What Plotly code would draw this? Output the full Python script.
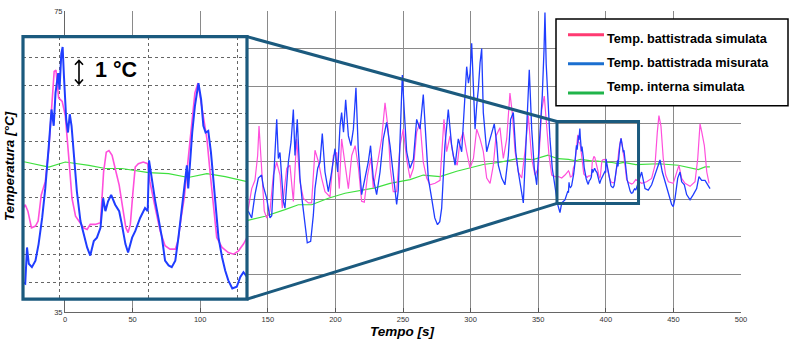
import plotly.graph_objects as go

# ---------------- data ----------------
sim_t = [134.4, 138.1, 140.5, 142.5, 143.5, 145.5, 147.4, 149.2, 151.6, 154.1, 156.6, 159.0, 160.7, 164.0,
         166.4, 168.9, 171.3, 173.8, 176.3, 180.0, 182.4, 184.9, 187.4, 189.8, 192.3, 196.0, 198.5, 201.0,
         202.9, 204.6, 207.1, 209.6, 212.1, 214.6, 217.1, 219.4, 221.4, 223.8, 226.3, 228.0, 230.5, 234.2,
         236.7, 239.0, 240.6, 242.8, 245.3, 247.8, 250.2, 252.7, 255.2, 257.7, 260.1, 262.6, 265.0, 267.5,
         270.0, 273.7, 277.4, 279.3, 280.3, 282.3, 284.8, 287.2, 290.1, 292.1, 294.5, 297.1, 299.6, 302.1,
         304.5, 307.0, 309.4, 311.9, 314.4, 316.8, 318.8, 321.7, 324.2, 326.7, 329.1, 330.8, 332.9, 335.3,
         337.8, 340.2, 342.7, 345.2, 347.6, 350.1, 352.6, 354.5, 356.2, 358.0, 360.0, 362.4, 364.9, 367.4,
         369.8, 371.8,
         372.4, 373.0, 373.8, 374.7, 375.3, 376.0, 376.9, 377.7, 378.4, 378.9, 379.3, 379.9, 380.7, 381.4,
         382.2, 382.9, 383.7, 384.8, 385.5, 386.3, 387.0, 388.1, 389.3, 390.0, 390.6, 391.2, 391.9, 392.6,
         393.5, 394.3, 395.0, 395.5, 396.0, 396.6, 397.1, 397.8, 398.9, 399.9, 400.4, 401.6, 402.7, 403.8,
         404.9, 406.1, 406.7, 407.4, 408.1, 409.0, 409.8, 410.5, 411.2, 411.7, 412.4, 413.2, 413.9, 414.7,
         415.4, 416.6, 418.0, 419.2, 420.3, 421.4, 422.2,
         426.5, 430.2, 433.9, 436.4, 438.1, 439.3, 440.8, 442.5, 444.3, 446.3, 449.9, 452.4, 454.1, 456.1,
         458.6, 462.3, 466.0, 468.0, 469.7, 470.9, 472.9, 474.7, 476.4]
sim_T = [47.5, 51.4, 52.5, 55.8, 59.7, 53.6, 48.4, 47.5, 48.4, 53.2, 54.9, 53.2, 48.8, 54.1,
         54.5, 49.7, 58.0, 52.3, 50.1, 49.5, 49.5, 56.5, 55.0, 52.8, 51.0, 50.3, 55.8, 56.2,
         51.4, 58.0, 54.9, 51.4, 55.8, 57.1, 54.1, 49.7, 49.6, 53.2, 55.5, 51.5, 54.1, 58.0,
         62.8, 59.3, 54.1, 51.0, 51.0, 57.1, 59.3, 55.3, 52.8, 54.1, 58.9, 60.2, 54.9, 52.8,
         51.9, 52.1, 52.5, 57.1, 60.6, 56.3, 58.4, 55.7, 54.5, 57.6, 58.9, 56.3, 54.1, 55.4,
         59.3, 58.0, 56.3, 52.8, 52.1, 54.5, 58.4, 59.5, 55.4, 58.0, 64.1, 61.5, 56.3, 53.6,
         52.8, 56.3, 61.1, 55.4, 53.2, 54.1, 61.9, 63.7, 60.2, 55.8, 53.2, 53.0, 53.0, 52.8,
         53.2, 53.6,
         53.76, 53.53, 52.94, 53.0, 53.18, 54.11, 54.58, 55.75, 57.27, 58.50, 58.55, 57.56, 57.44, 56.92,
         55.40, 53.99, 53.35, 53.12, 52.94, 52.88, 53.06, 53.06, 53.12, 54.93, 55.63, 55.69, 55.52, 55.05,
         54.46, 53.64, 52.94, 52.77, 53.06, 54.23, 55.10, 55.22, 55.28, 55.22, 54.58, 53.64, 52.82, 52.30,
         52.18, 52.18, 52.47, 53.29, 53.99, 55.40, 56.68, 57.74, 58.09, 57.62, 56.92, 56.10, 54.93, 53.76,
         52.59, 52.24, 52.06, 52.00, 52.12, 52.36, 52.59,
         52.1, 52.3, 52.75, 54.5, 58.9, 61.1, 59.7, 55.4, 53.2, 52.3, 52.1, 53.6, 54.5, 52.75,
         52.1, 51.7, 52.3, 55.4, 60.0, 59.0, 57.1, 53.6, 52.1]

meas_t = [135.6, 138.1, 140.5, 143.0, 145.4, 146.7, 149.2, 151.6, 152.9, 154.8, 156.6, 157.8, 159.0, 161.5,
          162.7, 165.2, 167.2, 168.9, 170.1, 171.8, 173.8, 175.5, 177.5, 179.2, 181.7, 183.7, 184.9, 186.9,
          188.6, 190.3, 192.3, 194.8, 197.2, 199.7, 201.7, 203.4, 204.6, 206.0, 207.6, 209.6, 211.5, 213.3,
          215.2, 216.9, 219.4, 221.9, 224.3, 226.0, 228.0, 230.5, 233.0, 235.4, 237.9, 240.4, 242.8, 245.3,
          246.5, 247.8, 249.5, 251.0, 252.7, 255.2, 257.7, 260.1, 262.6, 265.0, 267.0, 268.7, 271.2, 273.5,
          275.5, 277.2, 278.6, 281.0, 283.5, 286.0, 288.5, 290.9, 293.4, 295.9, 297.1, 298.4, 299.6, 300.8,
          302.1, 303.3, 304.5, 305.7, 307.0, 308.2, 309.4, 311.9, 314.4, 317.5, 319.3, 320.5, 323.0, 325.4,
          327.9, 329.6, 331.6, 333.4, 335.3, 337.8, 339.0, 340.7, 341.9, 343.4, 345.2, 347.1, 348.9, 350.1,
          351.8, 353.0, 354.3, 355.0, 355.9, 357.0, 358.7, 360.4, 362.4, 364.4, 366.1, 367.4, 369.8, 371.8,
          372.4, 372.8, 373.2, 373.9, 374.7, 375.4, 376.2, 376.9, 377.7, 378.3, 378.8, 379.2, 379.8, 380.1,
          380.5, 380.8, 381.1, 381.6, 382.0, 382.4, 382.8, 383.3, 384.0, 384.8, 385.5, 386.3, 387.0, 387.8,
          388.5, 389.3, 389.9, 390.4, 391.0, 391.7, 392.6, 393.5, 394.1, 394.9, 395.5, 396.4, 397.1, 397.5,
          398.2, 399.3, 399.9, 400.2, 400.8, 401.6, 402.3, 403.1, 403.8, 404.6, 405.3, 406.1, 406.8, 407.6,
          408.1, 408.7, 409.0, 409.4, 409.9, 410.5, 411.3, 411.9, 412.4, 412.9, 413.5, 414.1, 414.7, 415.2,
          415.8, 416.6, 417.3, 418.0, 418.9, 419.9, 420.7, 421.4, 422.2,
          424.0, 426.5, 429.0, 431.4, 433.9, 436.4, 438.4, 440.1, 441.8, 443.8, 446.3, 448.7, 449.9, 451.2,
          453.2, 454.9, 456.1, 458.1, 459.8, 462.3, 464.7, 467.2, 468.9, 470.9, 473.4, 475.4, 477.1]
meas_T = [48.4, 47.5, 50.6, 52.8, 53.2, 51.7, 50.1, 47.5, 47.8, 54.9, 60.6, 55.4, 56.2, 49.7,
          48.8, 54.9, 57.6, 61.9, 55.8, 60.6, 52.8, 49.7, 47.1, 44.2, 44.4, 47.9, 51.4, 54.1,
          54.9, 58.7, 53.6, 51.0, 53.6, 56.7, 53.6, 59.7, 61.5, 58.9, 63.2, 58.4, 57.1, 59.3,
          64.8, 56.7, 50.6, 52.7, 54.9, 57.1, 52.8, 50.6, 53.6, 58.0, 60.2, 57.1, 53.6, 49.3,
          51.2, 58.0, 66.5, 61.5, 56.3, 54.1, 55.3, 60.6, 59.3, 63.9, 57.1, 52.8, 50.1, 47.5,
          46.6, 47.0, 48.8, 57.1, 61.9, 57.1, 54.5, 58.0, 56.3, 63.7, 67.6, 65.4, 66.7, 70.7,
          63.7, 59.3, 62.4, 64.6, 68.1, 70.0, 61.5, 56.3, 58.0, 60.0, 57.5, 54.5, 52.8, 51.9,
          55.8, 60.6, 61.5, 56.3, 53.6, 50.6, 49.5, 56.3, 61.5, 67.2, 59.3, 54.1, 51.9, 55.4,
          61.5, 63.7, 69.8, 74.8, 68.0, 63.2, 58.0, 54.1, 51.9, 49.3, 48.2, 49.5, 49.9, 51.0,
          50.95, 52.24, 51.66, 51.54, 51.77, 52.36, 53.29, 54.34, 55.87, 57.15, 56.57, 57.74, 58.44, 57.85,
          59.14, 59.37, 58.32, 56.80, 56.33, 56.98, 56.57, 55.63, 54.23, 53.18, 52.71, 52.24, 51.95, 52.47,
          52.59, 52.94, 53.99, 53.53, 53.88, 54.11, 53.76, 53.53, 53.06, 52.36, 52.06, 52.59, 52.82, 53.00,
          53.29, 53.64, 53.53, 55.34, 54.70, 53.88, 53.29, 52.59, 51.77, 51.60, 51.54, 51.77, 52.59, 53.64,
          54.23, 55.16, 54.34, 55.28, 56.33, 57.27, 58.09, 57.50, 56.57, 56.33, 56.39, 55.63, 54.58, 53.53,
          52.59, 51.89, 51.42, 51.07, 50.78, 50.84, 51.19, 51.36, 51.19,
          52.3, 53.6, 51.4, 51.2, 51.9, 53.2, 54.5, 55.2, 53.6, 52.3, 50.6, 49.3, 49.0, 50.1,
          52.8, 53.6, 52.3, 51.9, 50.6, 49.9, 50.6, 51.4, 53.0, 52.5, 52.5, 51.9, 51.4]

int_t = [133.0, 148.0, 162.7, 172.6, 182.4, 194.8, 207.1, 219.4, 229.3, 240.4, 255.2, 265.0, 277.4, 289.7,
         301.8, 309.4, 321.7, 334.3, 346.2, 357.2, 364.6, 372.4, 377.7, 381.4, 386.7, 390.4, 394.1, 397.1,
         400.1, 404.6, 409.0, 413.2, 417.3, 422.2, 438.8, 453.6, 468.4, 473.4, 477.0]
int_T = [47.07, 47.72, 48.60, 49.25, 49.25, 50.12, 50.78, 51.22, 51.50, 52.10, 52.60, 53.20, 53.00, 53.70,
         54.30, 54.60, 54.90, 55.37, 55.24, 55.85, 55.37, 55.28, 55.10, 55.28, 55.16, 55.05, 55.05, 54.97,
         54.90, 54.87, 54.73, 54.87, 54.76, 54.58, 54.70, 54.50, 53.93, 54.28, 54.28]

x_ticks = [0, 50, 100, 150, 200, 250, 300, 350, 400, 450, 500]
y_ticks = [35, 40, 45, 50, 55, 60, 65, 70, 75]
legend_labels = ["Temp. battistrada simulata", "Temp. battistrada misurata", "Temp. interna simulata"]
x_title = "Tempo [s]"
y_title = "Temperatura [°C]"
scale_label = "1 °C"

# zoom window shown in the inset and the box marking it on the main chart
zoom_x = [371.9, 422.2]
zoom_y = [50.40, 59.74]
box_x = [363.9, 424.2]
box_y = [49.43, 60.31]

# ---------------- layout helpers ----------------
W, H = 800, 346
ML, MR, MT, MB = 20, 59, 7, 34
PW, PH = W - ML - MR, H - MT - MB


def px(x):
    return (x - ML) / PW


def py(y):
    return (H - MB - y) / PH


X0 = px(65)


def main_to_paper(t, T):
    return X0 + t / 500 * (1 - X0), (T - 35) / 40


FONT = "Liberation Sans, Arial, sans-serif"
C_SIM, C_MEAS, C_INT = "#ff4fdc", "#1f3dff", "#3ee03e"
C_BOX = "#1b5a7e"

fig = go.Figure()
for ax in ("x", "x2"):
    yax = "y" if ax == "x" else "y2"
    inset = ax == "x2"
    fig.add_trace(go.Scatter(x=int_t, y=int_T, mode="lines", xaxis=ax, yaxis=yax,
                             line=dict(color=C_INT, width=1.2), hoverinfo="skip"))
    fig.add_trace(go.Scatter(x=sim_t, y=sim_T, mode="lines", xaxis=ax, yaxis=yax,
                             line=dict(color=C_SIM, width=1.6 if inset else 1.2), hoverinfo="skip"))
    fig.add_trace(go.Scatter(x=meas_t, y=meas_T, mode="lines", xaxis=ax, yaxis=yax,
                             line=dict(color=C_MEAS, width=2.0 if inset else 1.3), hoverinfo="skip"))

shapes = []
# box on the main chart
shapes.append(dict(type="rect", xref="x", yref="y", x0=box_x[0], x1=box_x[1], y0=box_y[0], y1=box_y[1],
                   line=dict(color=C_BOX, width=3), fillcolor="rgba(0,0,0,0)", layer="above"))
# inset frame
shapes.append(dict(type="rect", xref="paper", yref="paper", x0=px(23), x1=px(247), y0=py(299), y1=py(33),
                   line=dict(color=C_BOX, width=3.2), fillcolor="rgba(0,0,0,0)", layer="above"))
# connectors
bx0, by1 = main_to_paper(box_x[0], box_y[1])
bx0b, by0 = main_to_paper(box_x[0], box_y[0])
shapes.append(dict(type="line", xref="paper", yref="paper", x0=px(247), y0=py(33), x1=bx0, y1=by1,
                   line=dict(color=C_BOX, width=3)))
shapes.append(dict(type="line", xref="paper", yref="paper", x0=px(247), y0=py(299), x1=bx0b, y1=by0,
                   line=dict(color=C_BOX, width=3)))
# scale arrow (1 °C)
path = (f"M {px(79)},{py(57)} L {px(79)},{py(81)} "
        f"M {px(75)},{py(61.5)} L {px(79)},{py(57)} L {px(83)},{py(61.5)} "
        f"M {px(75)},{py(76.5)} L {px(79)},{py(81)} L {px(83)},{py(76.5)}")
shapes.append(dict(type="path", xref="paper", yref="paper", path=path, line=dict(color="black", width=1.6)))
# legend box
shapes.append(dict(type="rect", xref="paper", yref="paper", x0=px(556), x1=px(788), y0=py(103), y1=py(15),
                   line=dict(color="black", width=1.5), fillcolor="white"))
leg_cols = ["#ff3a72", "#1b6fd0", "#20b44a"]
leg_line_y = [31, 60.5, 90]
leg_text_y = [35, 60, 84]
annotations = []
for lab, col, ly, ty in zip(legend_labels, leg_cols, leg_line_y, leg_text_y):
    shapes.append(dict(type="line", xref="paper", yref="paper", x0=px(568), x1=px(604), y0=py(ly), y1=py(ly),
                       line=dict(color=col, width=3)))
    annotations.append(dict(xref="paper", yref="paper", x=px(605), y=py(ty), text=lab, showarrow=False,
                            xanchor="left", yanchor="middle",
                            font=dict(family=FONT, size=12.7, color="black", weight="bold")))

annotations.append(dict(xref="paper", yref="paper", x=px(116), y=py(67), text=scale_label, showarrow=False,
                        xanchor="center", yanchor="middle",
                        font=dict(family=FONT, size=21.5, color="black", weight="bold")))
annotations.append(dict(xref="paper", yref="paper", x=px(402), y=py(332), text=f"<b><i>{x_title}</i></b>",
                        showarrow=False, xanchor="center", yanchor="middle",
                        font=dict(family=FONT, size=13.5, color="black")))
annotations.append(dict(xref="paper", yref="paper", x=px(10), y=py(164), text=f"<b><i>{y_title}</i></b>",
                        showarrow=False, xanchor="center", yanchor="middle", textangle=-90,
                        font=dict(family=FONT, size=13.5, color="black")))

axis_common = dict(showgrid=True, gridcolor="#8a8a8a", gridwidth=1, zeroline=False, showline=True,
                   linecolor="#666", linewidth=1, ticks="inside", ticklen=4, tickcolor="#555",
                   tickfont=dict(family=FONT, size=7.5, color="#333"))
inset_common = dict(showgrid=True, gridcolor="#666", gridwidth=1, griddash="dot", zeroline=False,
                    showline=False, ticks="", showticklabels=False)

fig.update_layout(
    width=W, height=H, margin=dict(l=ML, r=MR, t=MT, b=MB),
    paper_bgcolor="white", plot_bgcolor="white", showlegend=False,
    xaxis=dict(domain=[X0, 1], range=[0, 500], tickvals=x_ticks, anchor="y", **axis_common),
    yaxis=dict(domain=[0, 1], range=[35, 75], tickvals=y_ticks, anchor="x", **axis_common),
    xaxis2=dict(domain=[px(23), px(247)], range=zoom_x, tick0=0, dtick=20, anchor="y2", **inset_common),
    yaxis2=dict(domain=[py(299), py(33)], range=zoom_y, tick0=0, dtick=1, anchor="x2", **inset_common),
    shapes=shapes, annotations=annotations,
)

fig.write_html("out.html")
